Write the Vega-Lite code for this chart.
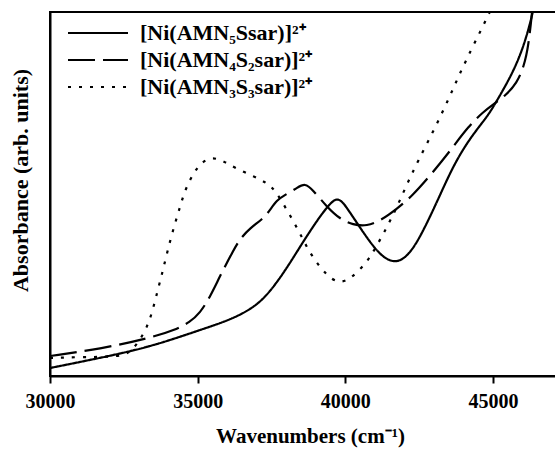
{
  "$schema": "https://vega.github.io/schema/vega-lite/v6.json",
  "width": 507,
  "height": 364,
  "autosize": {"type": "none"},
  "padding": {"left": 50, "top": 12, "right": 0, "bottom": 79},
  "background": "white",
  "config": {
    "view": {"stroke": "black", "strokeWidth": 2},
    "font": "Liberation Serif",
    "axis": {"grid": false, "labelFont": "Liberation Serif", "titleFont": "Liberation Serif", "labelColor": "black", "titleColor": "black", "domainColor": "black", "tickColor": "black", "domainWidth": 2}
  },
  "data": {"values": [
    {"series": "s1", "wn": 30000, "a": 8},
    {"series": "s1", "wn": 31693, "a": 18},
    {"series": "s1", "wn": 33386, "a": 29},
    {"series": "s1", "wn": 35079, "a": 46},
    {"series": "s1", "wn": 36196, "a": 57},
    {"series": "s1", "wn": 37111, "a": 72},
    {"series": "s1", "wn": 37720, "a": 95},
    {"series": "s1", "wn": 38126, "a": 113},
    {"series": "s1", "wn": 38566, "a": 134},
    {"series": "s1", "wn": 39142, "a": 160},
    {"series": "s1", "wn": 39582, "a": 176},
    {"series": "s1", "wn": 39752, "a": 177},
    {"series": "s1", "wn": 39921, "a": 174},
    {"series": "s1", "wn": 40260, "a": 159},
    {"series": "s1", "wn": 40734, "a": 138},
    {"series": "s1", "wn": 41174, "a": 121},
    {"series": "s1", "wn": 41614, "a": 113},
    {"series": "s1", "wn": 42020, "a": 117},
    {"series": "s1", "wn": 42460, "a": 134},
    {"series": "s1", "wn": 43104, "a": 174},
    {"series": "s1", "wn": 43646, "a": 210},
    {"series": "s1", "wn": 44221, "a": 238},
    {"series": "s1", "wn": 44797, "a": 259},
    {"series": "s1", "wn": 45068, "a": 272},
    {"series": "s1", "wn": 45576, "a": 298},
    {"series": "s1", "wn": 45914, "a": 320},
    {"series": "s1", "wn": 46151, "a": 341},
    {"series": "s1", "wn": 46354, "a": 364},
    {"series": "s1", "wn": 46456, "a": 380},

    {"series": "s2", "wn": 30000, "a": 20},
    {"series": "s2", "wn": 31693, "a": 27},
    {"series": "s2", "wn": 33386, "a": 38},
    {"series": "s2", "wn": 34233, "a": 46},
    {"series": "s2", "wn": 34740, "a": 54},
    {"series": "s2", "wn": 35079, "a": 63},
    {"series": "s2", "wn": 35418, "a": 79},
    {"series": "s2", "wn": 35756, "a": 100},
    {"series": "s2", "wn": 36196, "a": 125},
    {"series": "s2", "wn": 36433, "a": 137},
    {"series": "s2", "wn": 36772, "a": 148},
    {"series": "s2", "wn": 37212, "a": 157},
    {"series": "s2", "wn": 37449, "a": 166},
    {"series": "s2", "wn": 37686, "a": 176},
    {"series": "s2", "wn": 37957, "a": 181},
    {"series": "s2", "wn": 38363, "a": 188},
    {"series": "s2", "wn": 38634, "a": 193},
    {"series": "s2", "wn": 38905, "a": 186},
    {"series": "s2", "wn": 39379, "a": 169},
    {"series": "s2", "wn": 39819, "a": 157},
    {"series": "s2", "wn": 40260, "a": 151},
    {"series": "s2", "wn": 40734, "a": 150},
    {"series": "s2", "wn": 41174, "a": 155},
    {"series": "s2", "wn": 41749, "a": 167},
    {"series": "s2", "wn": 42291, "a": 181},
    {"series": "s2", "wn": 42800, "a": 198},
    {"series": "s2", "wn": 43273, "a": 215},
    {"series": "s2", "wn": 43646, "a": 229},
    {"series": "s2", "wn": 44153, "a": 249},
    {"series": "s2", "wn": 44661, "a": 264},
    {"series": "s2", "wn": 45068, "a": 273},
    {"series": "s2", "wn": 45407, "a": 280},
    {"series": "s2", "wn": 45813, "a": 293},
    {"series": "s2", "wn": 46050, "a": 310},
    {"series": "s2", "wn": 46200, "a": 330},
    {"series": "s2", "wn": 46321, "a": 363},
    {"series": "s2", "wn": 46389, "a": 385},

    {"series": "s3", "wn": 30000, "a": 18},
    {"series": "s3", "wn": 31016, "a": 19},
    {"series": "s3", "wn": 32032, "a": 19},
    {"series": "s3", "wn": 32540, "a": 21},
    {"series": "s3", "wn": 32777, "a": 26},
    {"series": "s3", "wn": 33047, "a": 36},
    {"series": "s3", "wn": 33284, "a": 49},
    {"series": "s3", "wn": 33454, "a": 63},
    {"series": "s3", "wn": 33623, "a": 83},
    {"series": "s3", "wn": 33792, "a": 102},
    {"series": "s3", "wn": 33962, "a": 123},
    {"series": "s3", "wn": 34165, "a": 146},
    {"series": "s3", "wn": 34402, "a": 169},
    {"series": "s3", "wn": 34571, "a": 186},
    {"series": "s3", "wn": 34842, "a": 202},
    {"series": "s3", "wn": 35079, "a": 212},
    {"series": "s3", "wn": 35418, "a": 219},
    {"series": "s3", "wn": 35824, "a": 216},
    {"series": "s3", "wn": 36196, "a": 209},
    {"series": "s3", "wn": 36941, "a": 199},
    {"series": "s3", "wn": 37348, "a": 193},
    {"series": "s3", "wn": 37618, "a": 186},
    {"series": "s3", "wn": 38025, "a": 166},
    {"series": "s3", "wn": 38465, "a": 143},
    {"series": "s3", "wn": 38804, "a": 122},
    {"series": "s3", "wn": 39379, "a": 100},
    {"series": "s3", "wn": 39752, "a": 93},
    {"series": "s3", "wn": 40158, "a": 96},
    {"series": "s3", "wn": 40734, "a": 114},
    {"series": "s3", "wn": 41005, "a": 127},
    {"series": "s3", "wn": 41411, "a": 149},
    {"series": "s3", "wn": 41749, "a": 169},
    {"series": "s3", "wn": 42088, "a": 192},
    {"series": "s3", "wn": 42460, "a": 215},
    {"series": "s3", "wn": 43036, "a": 248},
    {"series": "s3", "wn": 43544, "a": 280},
    {"series": "s3", "wn": 43883, "a": 303},
    {"series": "s3", "wn": 44323, "a": 330},
    {"series": "s3", "wn": 44898, "a": 364},
    {"series": "s3", "wn": 45068, "a": 376}
  ]},
  "mark": {"type": "line", "clip": true, "strokeWidth": 2.2, "color": "black", "interpolate": "basis"},
  "encoding": {
    "x": {
      "field": "wn", "type": "quantitative",
      "scale": {"domain": [30000, 47167], "nice": false, "zero": false},
      "axis": {"values": [30000, 35000, 40000, 45000], "format": "d", "title": "Wavenumbers (cm⁻¹)", "labelFontSize": 20, "labelFontWeight": "bold", "titleFontSize": 21, "titleFontWeight": "bold", "tickSize": 7, "tickWidth": 2, "labelPadding": 8, "titlePadding": 14, "titleX": 260, "labelFlush": false, "labelAlign": "center"}
    },
    "y": {
      "field": "a", "type": "quantitative",
      "scale": {"domain": [0, 364], "nice": false, "zero": false},
      "axis": {"title": "Absorbance (arb. units)", "labels": false, "ticks": false, "titleFontSize": 22, "titleFontWeight": "bold", "titlePadding": 18, "titleY": 168}
    },
    "detail": {"field": "series"},
    "strokeDash": {
      "field": "series", "type": "nominal",
      "scale": {"domain": ["s1", "s2", "s3"], "range": [[1, 0], [27, 8], [3, 8]]},
      "legend": {
        "orient": "none", "legendX": 37, "legendY": 10, "title": null,
        "labelExpr": "datum.value == 's1' ? '[Ni(AMN₅Ssar)]²⁺' : datum.value == 's2' ? '[Ni(AMN₄S₂sar)]²⁺' : '[Ni(AMN₃S₃sar)]²⁺'",
        "symbolType": "M-4,0H4", "symbolSize": 225, "symbolStrokeWidth": 2.2, "symbolStrokeColor": "black", "symbolFillColor": "transparent",
        "labelFontSize": 22, "labelFontWeight": "bold", "labelFont": "Liberation Serif", "labelColor": "black",
        "labelOffset": 31, "rowPadding": 5, "labelLimit": 400
      }
    }
  }
}
